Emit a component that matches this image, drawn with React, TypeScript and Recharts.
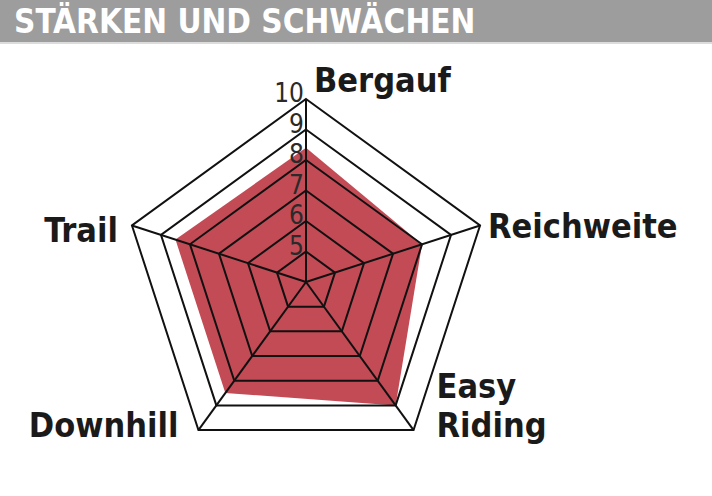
import React from "react";
import { RadarChart, Radar, PolarGrid, PolarAngleAxis, PolarRadiusAxis } from "recharts";

const categories = ["Bergauf", "Reichweite", "Easy Riding", "Downhill", "Trail"];
const scores = [8.4, 8.0, 9.0, 8.5, 8.5];
const radiusTicks = [5, 6, 7, 8, 9, 10];
const radiusDomain = [4.32, 10];
const title = "STÄRKEN UND SCHWÄCHEN";

const data = categories.map((c, i) => ({ name: c, value: scores[i] }));

const labelFont = "'DejaVu Sans Condensed', 'DejaVu Sans', sans-serif";
const tickFont = "'Liberation Sans Narrow', 'DejaVu Sans Condensed', sans-serif";

const labelStyle: Record<string, { dx: number; dy: number; anchor: string }> = {
  Bergauf: { dx: 8, dy: -7, anchor: "start" },
  Reichweite: { dx: 8, dy: 13, anchor: "start" },
  "Easy Riding": { dx: 23, dy: -32, anchor: "start" },
  Downhill: { dx: -20, dy: 7, anchor: "end" },
  Trail: { dx: -14, dy: 17, anchor: "end" },
};

const AngleTick = (props: any) => {
  const { payload, cx, cy, radius } = props;
  const ang = (-payload.coordinate * Math.PI) / 180;
  const vx = cx + Math.cos(ang) * radius;
  const vy = cy + Math.sin(ang) * radius;
  const s = labelStyle[payload.value] || { dx: 0, dy: 0, anchor: "middle" };
  const lines = String(payload.value).split(" ");
  return (
    <text
      x={vx + s.dx}
      y={vy + s.dy}
      textAnchor={s.anchor as any}
      fontFamily={labelFont}
      fontWeight="bold"
      fontSize={34}
      fill="#1a1a1a"
    >
      {lines.map((l, i) => (
        <tspan key={i} x={vx + s.dx} dy={i === 0 ? 0 : 39}>
          {l}
        </tspan>
      ))}
    </text>
  );
};

const RadiusTick = (props: any) => {
  const { x, y, payload } = props;
  return (
    <text
      x={x - 2}
      y={y + 3}
      textAnchor="end"
      fontFamily={tickFont}
      fontSize={26}
      fill="#2a2a2a"
    >
      {payload.value}
    </text>
  );
};

const chartProps = {
  width: 712,
  height: 496,
  data,
  cx: 306,
  cy: 282,
  outerRadius: 183,
  startAngle: 90,
  endAngle: -270,
};

export default function App() {
  return (
    <div style={{ position: "absolute", left: 0, top: 0, width: 712, height: 496, background: "#fff" }}>
      <div
        style={{
          position: "absolute",
          left: 0,
          top: 0,
          width: 712,
          height: 42,
          background: "#9d9d9d",
          borderBottom: "2px solid #dcdcdc",
        }}
      />
      <div
        style={{
          position: "absolute",
          left: 14,
          top: 2,
          color: "#ffffff",
          fontFamily: labelFont,
          fontWeight: "bold",
          fontSize: 33,
          lineHeight: "40px",
          whiteSpace: "nowrap",
        }}
      >
        {title}
      </div>
      <div style={{ position: "absolute", left: 0, top: 0 }}>
        <RadarChart {...chartProps}>
          <PolarAngleAxis dataKey="name" axisLine={false} tickLine={false} tick={false} />
          <PolarRadiusAxis
            angle={90}
            domain={radiusDomain}
            ticks={radiusTicks}
            axisLine={false}
            tickLine={false}
            tick={false}
            allowDataOverflow
          />
          <Radar
            dataKey="value"
            fill="#c24b55"
            fillOpacity={1}
            stroke="none"
            isAnimationActive={false}
          />
        </RadarChart>
      </div>
      <div style={{ position: "absolute", left: 0, top: 0 }}>
        <RadarChart {...chartProps}>
          <PolarGrid gridType="polygon" stroke="#111" strokeWidth={2} strokeOpacity={1} />
          <PolarAngleAxis dataKey="name" axisLine={false} tickLine={false} tick={<AngleTick />} />
          <PolarRadiusAxis
            angle={90}
            domain={radiusDomain}
            ticks={radiusTicks}
            axisLine={false}
            tickLine={false}
            tick={<RadiusTick />}
            allowDataOverflow
          />
        </RadarChart>
      </div>
    </div>
  );
}
